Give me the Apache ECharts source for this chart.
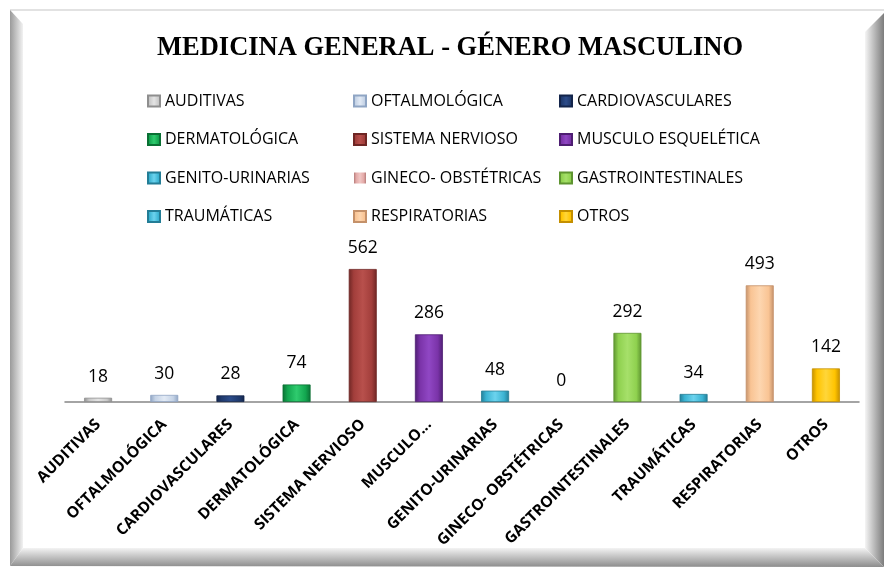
<!DOCTYPE html>
<html>
<head>
<meta charset="utf-8">
<script src="https://cdn.jsdelivr.net/npm/echarts@6/dist/echarts.min.js"></script>
<style>html,body{margin:0;padding:0;background:#fff;}#c{width:884px;height:567px;}</style>
</head>
<body>
<div id="c"></div>
<script>
var categories = ['AUDITIVAS','OFTALMOLÓGICA','CARDIOVASCULARES','DERMATOLÓGICA','SISTEMA NERVIOSO','MUSCULO ESQUELÉTICA','GENITO-URINARIAS','GINECO- OBSTÉTRICAS','GASTROINTESTINALES','TRAUMÁTICAS','RESPIRATORIAS','OTROS'];
var axisLabels = ['AUDITIVAS','OFTALMOLÓGICA','CARDIOVASCULARES','DERMATOLÓGICA','SISTEMA NERVIOSO','MUSCULO...','GENITO-URINARIAS','GINECO- OBSTÉTRICAS','GASTROINTESTINALES','TRAUMÁTICAS','RESPIRATORIAS','OTROS'];
var values = [18, 30, 28, 74, 562, 286, 48, 0, 292, 34, 493, 142];
var baseColors = ['#C9C9C9','#C5D3E6','#1F3A6E','#12A64F','#A23E3B','#7A33A8','#3AB3D2','#E3A9A7','#8FD14F','#3AB3D2','#F9C494','#FFC400'];
var edgeColors = ['#8E8E8E','#8FA5C4','#13244A','#0A7034','#6E2624','#4E1E72','#237D96','#B57C7A','#5E9430','#237D96','#C4916A','#C48F00'];
var lightColors = ['#E4E4E4','#E2EAF5','#2C4C8A','#2FCB6E','#B8504C','#9047C4','#6CD3EE','#F0C6C4','#A6E06A','#6CD3EE','#FDD6B0','#FFD63A'];
var legendCols = [
  ['AUDITIVAS','DERMATOLÓGICA','GENITO-URINARIAS','TRAUMÁTICAS'],
  ['OFTALMOLÓGICA','SISTEMA NERVIOSO','GINECO- OBSTÉTRICAS','RESPIRATORIAS'],
  ['CARDIOVASCULARES','MUSCULO ESQUELÉTICA','GASTROINTESTINALES','OTROS']
];
var legendLefts = [147, 353, 559];

function grad(i) {
  return new echarts.graphic.LinearGradient(0, 0, 1, 0, [
    {offset: 0, color: edgeColors[i]},
    {offset: 0.18, color: baseColors[i]},
    {offset: 0.5, color: lightColors[i]},
    {offset: 0.82, color: baseColors[i]},
    {offset: 1, color: edgeColors[i]}
  ]);
}

var series = categories.map(function (name, i) {
  return {
    name: name,
    type: 'bar',
    stack: 'all',
    barWidth: 28,
    data: values.map(function (v, j) { return j === i ? v : '-'; }),
    itemStyle: { color: grad(i), borderColor: edgeColors[i], borderWidth: values[i] > 0 ? 0.8 : 0 },
    label: {
      show: true, position: 'top', distance: 12,
      fontFamily: 'Open Sans', fontSize: 17.5, color: '#000'
    }
  };
});

var legends = legendCols.map(function (col, k) {
  return {
    orient: 'vertical', left: legendLefts[k], top: 93, padding: 0,
    itemWidth: 12, itemHeight: 11, itemGap: 22.5,
    icon: 'rect',
    data: col,
    selectedMode: false,
    textStyle: { fontFamily: 'Open Sans', fontSize: 16, color: '#000', lineHeight: 16 }
  };
});

function lg(x0, y0, x1, y1, c0, c1) {
  return new echarts.graphic.LinearGradient(x0, y0, x1, y1, [{offset: 0, color: c0}, {offset: 1, color: c1}]);
}

var chart = echarts.init(document.getElementById('c'));
chart.setOption({
  backgroundColor: '#fff',
  animation: false,
  graphic: [
    { type: 'rect', z: -10, shape: {x: 10, y: 9, width: 874, height: 2}, style: { fill: '#e2e2e2' } },
    { type: 'polygon', z: -9, shape: { points: [[10, 10], [23, 24], [23, 548], [10, 566]] },
      style: { fill: lg(0, 0, 1, 0, '#9a9a9a', '#f2f2f2') } },
    { type: 'polygon', z: -9, shape: { points: [[884, 13], [865, 32], [865, 548], [884, 567]] },
      style: { fill: lg(0, 0, 1, 0, '#f5f5f5', '#7c7c7c') } },
    { type: 'polygon', z: -8, shape: { points: [[10, 566], [23, 548], [865, 548], [884, 567]] },
      style: { fill: lg(0, 0, 0, 1, '#f3f3f3', '#8c8c8c') } }
  ],
  title: {
    text: 'MEDICINA GENERAL - GÉNERO MASCULINO',
    left: 157, top: 35, padding: 0,
    textStyle: { fontFamily: 'Liberation Serif', fontWeight: 'bold', fontSize: 26.5, color: '#000' }
  },
  legend: legends,
  grid: { left: 65, right: 25, top: 260, bottom: 165 },
  xAxis: {
    type: 'category',
    data: categories,
    axisLine: { lineStyle: { color: '#868686', width: 1.5 } },
    axisTick: { show: false },
    axisLabel: {
      interval: 0, rotate: 45, margin: 20,
      fontFamily: 'Open Sans', fontWeight: 'bold', fontSize: 15.5, color: '#000',
      formatter: function (v, i) { return axisLabels[i]; }
    }
  },
  yAxis: {
    type: 'value', min: 0, max: 600, show: false,
    splitLine: { show: false }
  },
  series: series
});
</script>
</body>
</html>
